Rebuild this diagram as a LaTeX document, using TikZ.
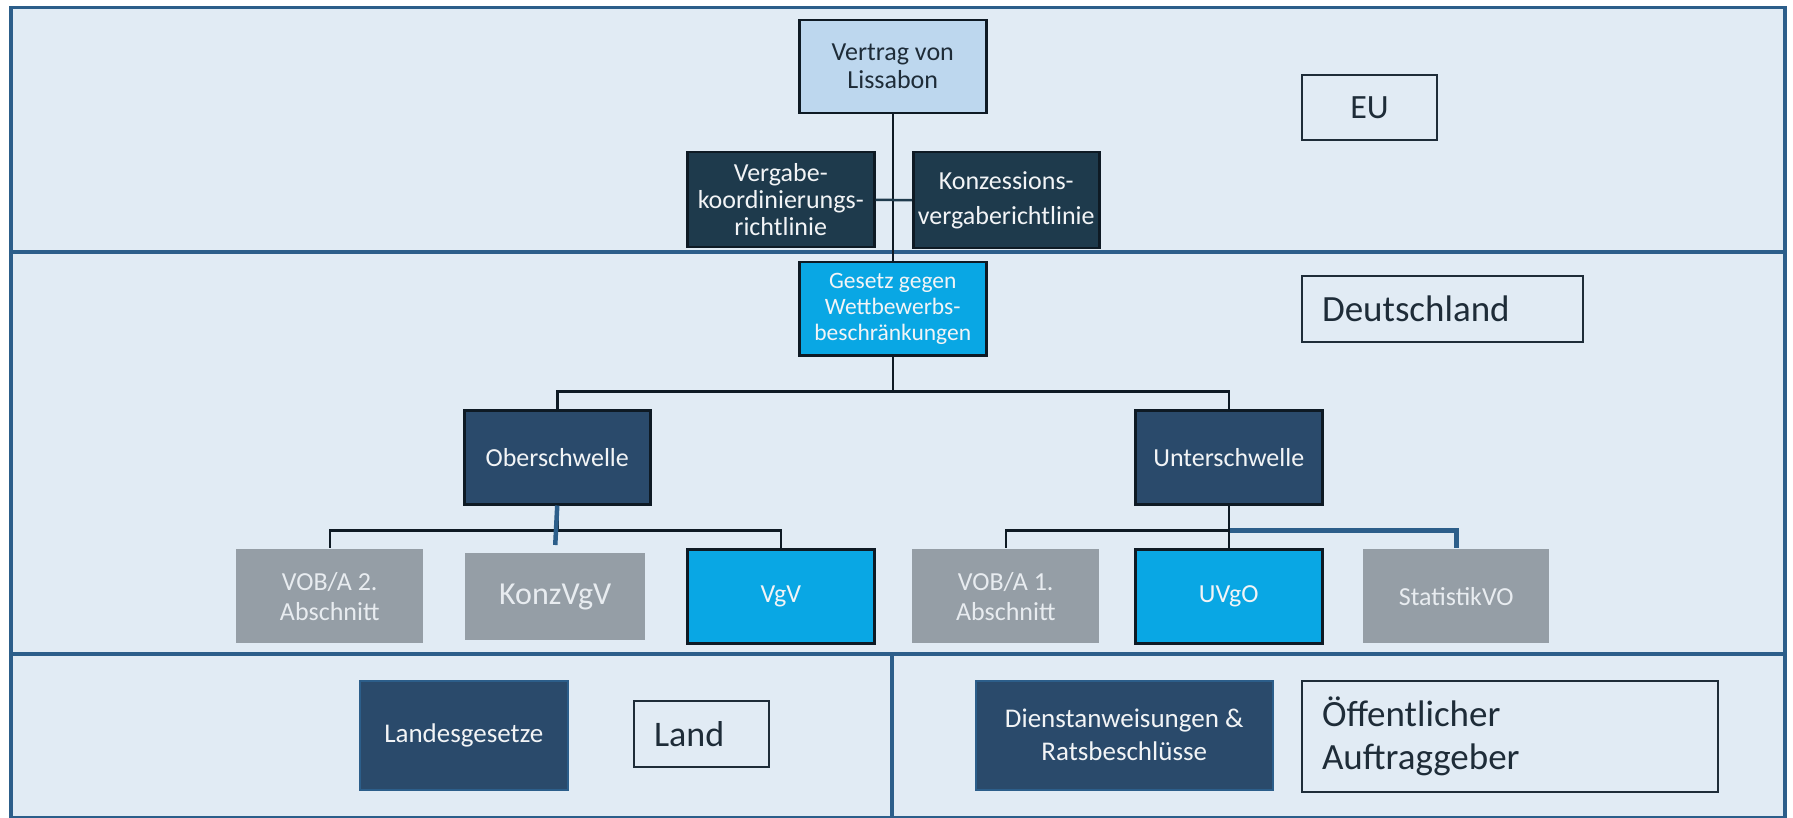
\documentclass[tikz,border=0pt]{standalone}
\usepackage{fontspec}
\usetikzlibrary{calc}
\setmainfont{Carlito}
\definecolor{panelbg}{RGB}{225,235,244}
\definecolor{panelline}{RGB}{44,94,138}
\definecolor{lightbox}{RGB}{189,215,238}
\definecolor{tealdark}{RGB}{30,58,76}
\definecolor{navy}{RGB}{42,74,107}
\definecolor{cyanbox}{RGB}{9,167,228}
\definecolor{graybox}{RGB}{149,158,166}
\definecolor{inkdark}{RGB}{14,26,36}
\definecolor{labeltext}{RGB}{30,44,56}
\definecolor{graytext}{RGB}{232,236,240}
\definecolor{whitetext}{RGB}{242,244,246}
\tikzset{
  panel/.style={rectangle, anchor=north west, inner sep=0pt, fill=panelbg, draw=panelline, line width=3.5pt},
  box/.style={rectangle, anchor=north west, inner sep=0pt, align=center, line width=2.5pt},
  lightnode/.style={box, fill=lightbox, draw=inkdark, text=labeltext},
  tealnode/.style={box, fill=tealdark, draw=inkdark, text=whitetext},
  navynode/.style={box, fill=navy, draw=inkdark, text=whitetext},
  navysoft/.style={box, fill=navy, draw=panelline, line width=1.5pt, text=whitetext},
  cyannode/.style={box, fill=cyanbox, draw=inkdark, text=whitetext},
  graynode/.style={box, fill=graybox, draw=none, text=graytext},
  labelnode/.style={rectangle, anchor=north west, inner ysep=0pt, inner xsep=20pt, fill=panelbg, draw=labeltext, line width=2pt, text=labeltext},
  conn/.style={draw=inkdark, line width=2.5pt},
  blueconn/.style={draw=panelline, line width=4.5pt}
}
\begin{document}
\begin{tikzpicture}[x=1pt,y=-1pt]
\useasboundingbox (0,0) rectangle (1793,818);
% panels
\node[panel, minimum width=1774pt, minimum height=244pt] (euP) at (9,6) {};
\node[panel, minimum width=1774pt, minimum height=401pt] (deP) at (9,251) {};
\node[panel, minimum width=881pt, minimum height=164pt] (landP) at (9,652) {};
\node[panel, minimum width=893pt, minimum height=164pt] (agP) at (890,652) {};

% EU level
\node[lightnode, minimum width=187pt, minimum height=93pt, font={\fontsize{26}{28}\selectfont}] (vertrag) at (798,19) {Vertrag von\\Lissabon};
\node[tealnode, minimum width=187pt, minimum height=95pt, font={\fontsize{26}{27}\selectfont}] (vkr) at (686,151) {Vergabe-\\koordinierungs-\\richtlinie};
\node[tealnode, minimum width=186pt, minimum height=96pt, font={\fontsize{26}{35}\selectfont}] (kvr) at (912,151) {Konzessions-\\vergaberichtlinie};
\node[labelnode, text width=95pt, align=center, minimum height=65pt, font={\fontsize{34}{36}\selectfont}] (eu) at (1301,74) {EU};

% Deutschland level
\node[cyannode, minimum width=187pt, minimum height=93pt, font={\fontsize{23.5}{26}\selectfont}] (gwb) at (798,261) {Gesetz gegen\\Wettbewerbs-\\beschränkungen};
\node[labelnode, text width=241pt, align=left, minimum height=66pt, font={\fontsize{37}{40}\selectfont}] (de) at (1301,275) {Deutschland};
\node[navynode, minimum width=186pt, minimum height=94pt, font={\fontsize{26}{28}\selectfont}] (ober) at (463,409) {Oberschwelle};
\node[navynode, minimum width=187pt, minimum height=94pt, font={\fontsize{26}{28}\selectfont}] (unter) at (1134,409) {Unterschwelle};

\node[graynode, minimum width=187pt, minimum height=94pt, font={\fontsize{26}{30}\selectfont}] (vob2) at (235,548) {VOB/A 2.\\Abschnitt};
\node[graynode, minimum width=180pt, minimum height=87pt, font={\fontsize{32}{34}\selectfont}] (konz) at (464,552) {KonzVgV};
\node[cyannode, minimum width=187pt, minimum height=94pt, font={\fontsize{26}{28}\selectfont}] (vgv) at (686,548) {VgV};
\node[graynode, minimum width=187pt, minimum height=94pt, font={\fontsize{26}{30}\selectfont}] (vob1) at (911,548) {VOB/A 1.\\Abschnitt};
\node[cyannode, minimum width=187pt, minimum height=94pt, font={\fontsize{26}{28}\selectfont}] (uvgo) at (1134,548) {UVgO};
\node[graynode, minimum width=186pt, minimum height=94pt, font={\fontsize{26}{28}\selectfont}] (stat) at (1362,548) {StatistikVO};

% Land / Auftraggeber
\node[navysoft, minimum width=208pt, minimum height=109pt, font={\fontsize{27}{29}\selectfont}] (landg) at (359,680) {Landesgesetze};
\node[labelnode, text width=95pt, align=left, minimum height=66pt, font={\fontsize{36}{38}\selectfont}] (land) at (633,700) {Land};
\node[navysoft, minimum width=297pt, minimum height=109pt, font={\fontsize{27}{33}\selectfont}] (dienst) at (975,680) {Dienstanweisungen \&\\Ratsbeschlüsse};
\node[labelnode, text width=376pt, align=left, minimum height=111pt, font={\fontsize{37}{43}\selectfont}] (oeff) at (1301,680) {Öffentlicher\\Auftraggeber};

% connectors
\draw[conn] (vertrag.south) -- (gwb.north);
\draw[conn, draw=tealdark] (vkr.east) -- (kvr.west);
\coordinate (busA) at ($(gwb.south)+(0,35)$);
\draw[conn] (gwb.south) -- (busA);
\draw[conn] (busA) -| (ober.north);
\draw[conn] (busA) -| (unter.north);
\coordinate (busO) at ($(ober.south)+(0,25)$);
\draw[conn] (ober.south) -- (busO);
\draw[conn] (busO) -| (vob2.north);
\draw[conn] (busO) -| (vgv.north);
\draw[blueconn] (ober.south) -- ([yshift=7pt]konz.north);
\coordinate (busU) at ($(unter.south)+(0,25)$);
\draw[blueconn] (busU) -| (stat.north);
\draw[conn] (unter.south) -- (busU);
\draw[conn] (busU) -| (vob1.north);
\draw[conn] (busU) -- (uvgo.north);
\end{tikzpicture}
\end{document}
